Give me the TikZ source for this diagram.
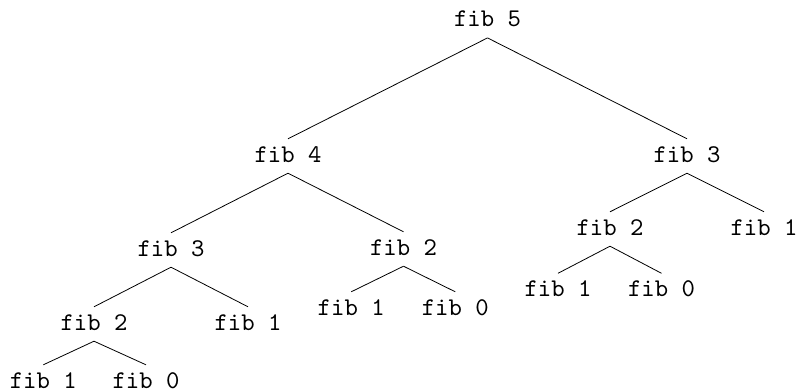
\documentclass[tikz,border=0pt]{standalone}
\usepackage{fontspec}
\newfontfamily\fibfont{lmmono10-regular.otf}
\begin{document}
\begin{tikzpicture}[x=1pt,y=-1pt,
  fibnode/.style={anchor=base,inner xsep=0pt,inner ysep=8pt,text height=15pt,text depth=3pt,
    font=\fibfont\fontsize{25.5pt}{30pt}\selectfont},
  edge/.style={line width=0.8pt}]
\useasboundingbox (0,0) rectangle (800,391);
\node[fibnode] (n5)   at (487.5,26.7) {fib 5};
\node[fibnode] (n4)   at (288,162) {fib 4};
\node[fibnode] (n3r)  at (687,162) {fib 3};
\node[fibnode] (n3l)  at (171,256) {fib 3};
\node[fibnode] (n2m)  at (403.5,255) {fib 2};
\node[fibnode] (n2r)  at (610,235) {fib 2};
\node[fibnode] (n1rr) at (764,235) {fib 1};
\node[fibnode] (n2l)  at (94,330) {fib 2};
\node[fibnode] (n1l)  at (248,330) {fib 1};
\node[fibnode] (n1m)  at (351.2,315) {fib 1};
\node[fibnode] (n0m)  at (455.3,315) {fib 0};
\node[fibnode] (n1r)  at (558,296.5) {fib 1};
\node[fibnode] (n0r)  at (661.5,296.5) {fib 0};
\node[fibnode] (n1b)  at (43.3,388) {fib 1};
\node[fibnode] (n0b)  at (146,388) {fib 0};
\draw[edge] (n5.south) -- (n4.north);
\draw[edge] (n5.south) -- (n3r.north);
\draw[edge] (n4.south) -- (n3l.north);
\draw[edge] (n4.south) -- (n2m.north);
\draw[edge] (n3r.south) -- (n2r.north);
\draw[edge] (n3r.south) -- (n1rr.north);
\draw[edge] (n3l.south) -- (n2l.north);
\draw[edge] (n3l.south) -- (n1l.north);
\draw[edge] (n2m.south) -- (n1m.north);
\draw[edge] (n2m.south) -- (n0m.north);
\draw[edge] (n2r.south) -- (n1r.north);
\draw[edge] (n2r.south) -- (n0r.north);
\draw[edge] (n2l.south) -- (n1b.north);
\draw[edge] (n2l.south) -- (n0b.north);
\end{tikzpicture}
\end{document}
